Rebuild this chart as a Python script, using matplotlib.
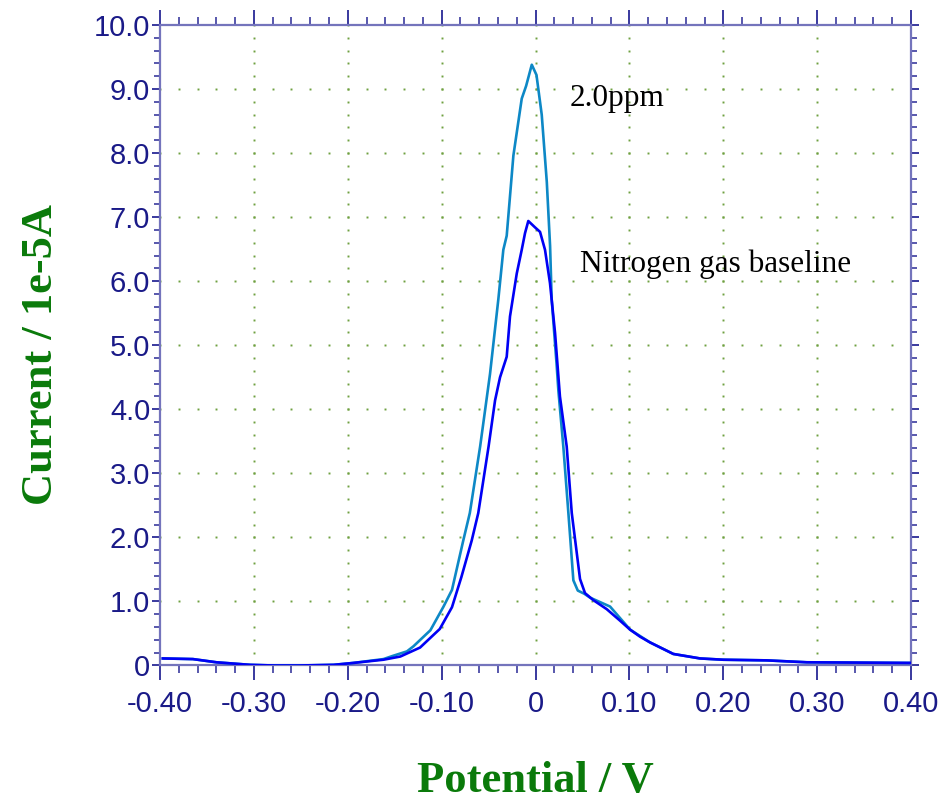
#!/usr/bin/env python3

"""Differential pulse voltammogram: 2.0 ppm vs nitrogen baseline"""

import matplotlib
matplotlib.use('Agg')
import matplotlib.pyplot as plt
import numpy as np

# 2.0 ppm curve (V, 1e-5 A)
ppm_x = [-0.397, -0.365, -0.340, -0.304, -0.279, -0.251, -0.215, -0.194, -0.162,
         -0.152, -0.137, -0.130, -0.112, -0.098, -0.089, -0.077, -0.070, -0.059,
         -0.0485, -0.0396, -0.0343, -0.0307, -0.0236, -0.0147, -0.010, -0.004,
         0.001, 0.0066, 0.012, 0.0155, 0.0172, 0.0226, 0.0243, 0.0296, 0.035,
         0.0403, 0.045, 0.052, 0.058, 0.0794, 0.1007, 0.122, 0.1468, 0.1752,
         0.200, 0.246, 0.289, 0.399]
ppm_y = [0.11, 0.10, 0.05, 0.01, 0.00, 0.00, 0.01, 0.04, 0.10,
         0.15, 0.22, 0.30, 0.55, 0.92, 1.18, 1.95, 2.38, 3.42,
         4.55, 5.72, 6.49, 6.71, 7.96, 8.85, 9.05, 9.38,
         9.22, 8.60, 7.55, 6.55, 5.72, 4.67, 4.30, 3.42, 2.38,
         1.33, 1.17, 1.12, 1.06, 0.92, 0.56, 0.36, 0.18, 0.11,
         0.09, 0.08, 0.05, 0.04]

# nitrogen gas baseline curve
n2_x = [-0.397, -0.365, -0.340, -0.304, -0.279, -0.251, -0.215, -0.194, -0.162,
        -0.144, -0.123, -0.102, -0.089, -0.079, -0.068, -0.061, -0.050, -0.0431,
        -0.0378, -0.0307, -0.0272, -0.020, -0.0147, -0.0112, -0.0077, -0.0005,
        0.0048, 0.0101, 0.0154, 0.0208, 0.026, 0.0332, 0.0386, 0.0474, 0.0527,
        0.0616, 0.0758, 0.090, 0.1007, 0.1113, 0.122, 0.1468, 0.1752, 0.200,
        0.246, 0.289, 0.399]
n2_y = [0.11, 0.10, 0.05, 0.01, 0.00, 0.00, 0.01, 0.04, 0.09,
        0.14, 0.28, 0.57, 0.91, 1.38, 1.95, 2.38, 3.42, 4.14,
        4.50, 4.82, 5.45, 6.12, 6.49, 6.75, 6.94, 6.84,
        6.77, 6.49, 5.97, 5.19, 4.20, 3.42, 2.38, 1.35, 1.13,
        1.02, 0.88, 0.70, 0.56, 0.45, 0.36, 0.18, 0.11, 0.09,
        0.08, 0.05, 0.04]

x_ticks = [-0.40, -0.30, -0.20, -0.10, 0.0, 0.10, 0.20, 0.30, 0.40]
x_labels = ['-0.40', '-0.30', '-0.20', '-0.10', '0', '0.10', '0.20', '0.30', '0.40']
y_ticks = [0, 1, 2, 3, 4, 5, 6, 7, 8, 9, 10]
y_labels = ['0', '1.0', '2.0', '3.0', '4.0', '5.0', '6.0', '7.0', '8.0', '9.0', '10.0']

SPINE = '#7474bc'
TICKC = '#2a2a96'
LABELC = '#1a1a88'
GRIDC = '#6fa040'
GREEN = '#0a7a0a'


def main():
    fig = plt.figure(figsize=(9.43, 7.99), dpi=100)
    ax = fig.add_axes([0.1697, 0.1671, 0.7964, 0.8016])

    # dotted grid: dots at minor steps along the major lines
    x_minor = np.round(np.arange(-0.40, 0.4001, 0.02), 3)
    y_minor = np.round(np.arange(0, 10.001, 0.2), 2)
    for xv in x_ticks[1:-1]:
        ax.plot(np.full(len(y_minor), xv), y_minor, linestyle='none', marker='s',
                markersize=1.4, color=GRIDC, markeredgewidth=0, zorder=1)
    for yv in y_ticks[1:-1]:
        ax.plot(x_minor, np.full(len(x_minor), yv), linestyle='none', marker='s',
                markersize=1.4, color=GRIDC, markeredgewidth=0, zorder=1)

    ax.plot(ppm_x, ppm_y, color='#0d88c6', linewidth=1.9, zorder=3)
    ax.plot(n2_x, n2_y, color='#0000f5', linewidth=1.9, zorder=4)

    ax.text(0.036, 8.86, '2.0ppm', fontfamily='Liberation Serif', fontsize=22.5,
            va='center', ha='left', color='black')
    ax.text(0.047, 6.27, 'Nitrogen gas baseline', fontfamily='Liberation Serif',
            fontsize=22.5, va='center', ha='left', color='black')

    ax.set_xlim(-0.40, 0.40)
    ax.set_ylim(0, 10)
    ax.set_xticks(x_ticks)
    ax.set_xticklabels(x_labels)
    ax.set_yticks(y_ticks)
    ax.set_yticklabels(y_labels)
    ax.set_xticks(x_minor, minor=True)
    ax.set_yticks(y_minor, minor=True)

    for sp in ax.spines.values():
        sp.set_color(SPINE)
        sp.set_linewidth(1.6)

    ax.tick_params(axis='both', which='major', direction='out', colors=TICKC,
                   labelcolor=LABELC, labelsize=21, width=1.3)
    ax.tick_params(axis='x', which='major', length=11, top=True, pad=7)
    ax.tick_params(axis='y', which='major', length=6, right=True, pad=1)
    ax.tick_params(axis='x', which='minor', length=6, top=True, width=1.1,
                   colors=TICKC, direction='out')
    ax.tick_params(axis='y', which='minor', length=4, right=True, width=1.1,
                   colors=TICKC, direction='out')
    for lbl in ax.get_xticklabels() + ax.get_yticklabels():
        lbl.set_fontfamily('Liberation Sans')

    ax.set_xlabel('Potential / V', fontfamily='Liberation Serif', fontweight='bold',
                  fontsize=32, color=GREEN, va='center')
    ax.set_ylabel('Current / 1e-5A', fontfamily='Liberation Serif', fontweight='bold',
                  fontsize=32, color=GREEN, va='center')
    ax.xaxis.set_label_coords(0.5, -0.18)
    ax.yaxis.set_label_coords(-0.159, 0.485)

    plt.savefig('out.png', dpi=100)


if __name__ == "__main__":
    main()
